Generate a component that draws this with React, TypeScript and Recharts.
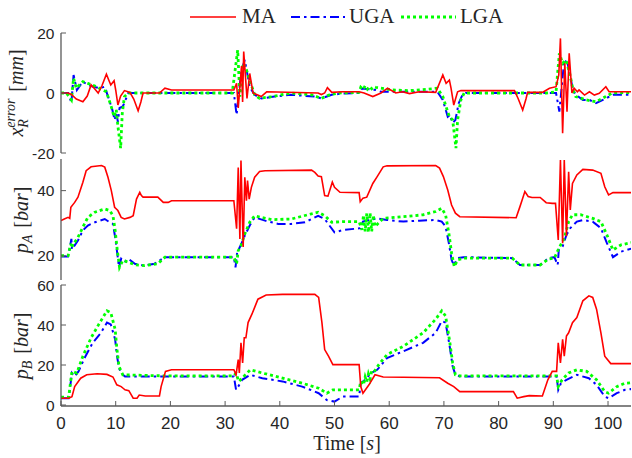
import React from 'react';
import { LineChart, Line, XAxis, YAxis } from 'recharts';

type P = [number, number];

const timeTicks = [0, 10, 20, 30, 40, 50, 60, 70, 80, 90, 100];
const xErrTicks = [-20, 0, 20];
const pATicks = [20, 40];
const pBTicks = [0, 20, 40, 60];
const seriesNames = ['MA', 'UGA', 'LGA'];

// x_R error [mm]
const maXErr: P[] = [[0,0],[1.3,0],[1.9,-0.5],[2.8,-2],[4.0,-2.9],[4.8,-1],[5.5,2.7],[6.1,1.5],[6.8,0],[7.5,2.5],[8.3,6.3],[8.8,4],[9.1,2.7],[9.7,4.1],[10.0,1],[10.4,-4],[10.9,-1],[11.6,0.8],[12.6,0.2],[13.3,-2],[14.1,-5.9],[14.6,-3],[15,0],[18,0],[19,1.6],[20.2,1],[31.6,1],[32.1,3.2],[32.4,-5],[33.0,9],[33.2,-3],[33.4,13.8],[34.0,-1.8],[34.5,6.5],[35.1,0],[36.6,-1.2],[37.6,0.4],[47.0,0],[47.6,-0.5],[48.2,0],[48.7,1.8],[49.5,0.2],[51.5,0.4],[54.5,0.4],[55.4,0],[57,-1.2],[58.5,0],[59.7,1.6],[61.2,0],[62.4,0.4],[63.7,-0.2],[65.5,0.4],[68.5,0.2],[69.8,6],[70.4,3.2],[71,4.3],[71.3,1.6],[71.8,-4],[72.5,0.4],[73.1,0.8],[82.9,0.8],[83.6,-2],[84.4,-5.7],[85.0,-2],[85.3,0.2],[88,0.2],[89.3,1.6],[90.5,2.1],[91.0,6],[91.3,18.2],[91.7,-13.4],[92.1,9.9],[92.5,-6.2],[92.9,13.2],[93.4,0],[93.8,1.6],[94.4,0.4],[94.7,1],[95.7,-0.7],[96.6,0.4],[97.5,-0.7],[98.4,-0.1],[99.6,2.1],[100.2,0.4],[104.5,0.4]];
const ugaXErr: P[] = [[0,0],[1.3,0],[1.9,-3.2],[2.3,6],[2.9,1],[4,3.8],[4.9,2.7],[5.9,2.1],[7.1,1.6],[8,2.1],[8.6,-1.2],[9.4,-5.7],[9.8,-9],[10.1,-6.8],[10.4,-9.6],[10.7,-5],[11.3,-4.5],[12.3,0],[31.6,0],[32.1,-7.3],[32.5,0],[33,7.7],[33.6,11],[34.5,2],[35.4,-0.6],[36.6,-1.8],[39,-1.2],[42,-0.6],[46.4,-1.2],[47.6,-1.8],[49.5,-0.6],[51.3,-0.2],[54.5,0],[55,1.5],[57.5,1],[58.5,0.4],[68.8,0.4],[69.8,-2.3],[70.7,-7.9],[71.1,-7.3],[71.6,-10],[72.1,-9],[72.7,-3.4],[73.4,-0.6],[74,0],[90.5,0],[91.1,-6.2],[92,11],[92.6,10],[93.6,1],[94.1,-0.6],[95.4,-2.3],[96.6,-2.3],[97.8,-3.4],[99.6,-1.8],[100.9,-0.6],[104.5,-0.6]];
const lgaXErr: P[] = [[0,0],[1,0],[1.9,-2.3],[2.3,4.9],[2.8,1.6],[4,3.8],[4.9,3.2],[6.2,2.3],[7.4,1.2],[8.3,0.4],[9.2,-4.6],[9.7,-7.9],[10.1,-5.6],[10.4,-11],[10.9,-18.4],[11.2,-6.8],[11.6,-1.2],[12.3,0],[31.3,0],[32.3,14.3],[32.7,-1.2],[33.3,9.9],[33.9,7.7],[34.5,4.3],[35.4,-0.6],[36.3,-1.8],[38.5,-1.2],[42.1,0],[45.8,-0.6],[47.6,-1.8],[49.1,-0.6],[50.7,0],[54.5,0.2],[54.8,1.9],[55.2,1.2],[55.6,2.4],[56,1.3],[56.4,2.2],[56.8,1.4],[57.2,2.1],[57.5,1.9],[60.6,1],[63.7,0.8],[66.7,1.2],[68.8,1.6],[69.8,-1.2],[70.4,-4.6],[71,-7.9],[71.6,-9],[72.2,-18.4],[72.5,-9],[73.1,-2.3],[73.7,0],[88.7,0],[90.5,0.4],[91.1,13.2],[91.7,9.9],[92.3,11],[93,6.5],[93.6,1],[94.1,-1.2],[96,-2.3],[97.8,-2.9],[99.6,-1.2],[100.8,0],[104.5,0.2]];

// p_A [bar]
const maPA: P[] = [[0,30.8],[0.6,31.3],[1.3,31.8],[1.6,31.5],[1.8,34.9],[2.5,36.4],[3.1,38],[4,42.6],[4.6,46.1],[5.5,47.3],[7.4,47.7],[8,47.2],[8.6,44],[9.2,40],[9.8,34.9],[10.4,33.9],[11,31.8],[11.6,31.3],[12.6,31.8],[13.2,32.3],[13.8,37.4],[14.4,39.5],[14.7,38.5],[15,38],[17.7,38],[18.7,36.4],[19.6,36.4],[20.2,36.9],[31.6,36.9],[32.1,28.3],[32.4,47.1],[32.7,25.2],[32.9,49.2],[33.3,22.7],[33.6,44.1],[33.9,36.9],[34.1,43.1],[34.4,37.4],[34.8,41],[35.4,44.1],[36.3,45.9],[37.3,46.1],[45.8,46.3],[46.4,45.6],[47,44.5],[47.6,44.3],[48.2,38.5],[48.8,38.3],[49.6,42.6],[50,41],[51,39.5],[54.5,39.4],[54.7,36.6],[55.2,37.7],[55.9,38],[57,42.2],[57.8,44.3],[58.9,47.3],[59.6,47.6],[68.5,47.7],[69.2,46.9],[69.9,44.3],[70.7,40.2],[71.4,35.6],[72.1,33.1],[72.9,32],[83.2,31.7],[83.9,35.1],[84.3,37.1],[84.8,39.7],[85.4,38.2],[86.1,37.9],[87.6,37.9],[88.7,36.3],[89.8,36.1],[90.4,36.1],[90.9,24.9],[91.3,49.4],[91.7,23.9],[92,49.4],[92.4,26],[92.8,45.8],[93.1,34.1],[93.5,42.2],[94.3,44.8],[95.4,46.5],[97.2,46.3],[98.7,45.3],[99.4,41.2],[100.1,38.7],[100.9,39.4],[104.4,39.4]];
const ugaPA: P[] = [[0,19.8],[1.3,19.8],[1.9,25.2],[2.0,22],[2.5,23.2],[3.1,24.7],[4,27.8],[4.9,29.3],[6.2,30.3],[8,31.3],[8.9,30.3],[9.5,29.8],[9.9,25.7],[10.3,20.6],[10.6,16.5],[11,19.1],[11.6,18.1],[12.3,19.1],[13.5,17.6],[15.3,17],[17.1,17.6],[19,19.6],[31.6,19.6],[31.9,16.5],[32.2,21],[32.7,22.7],[33.6,26.2],[34.5,29.3],[35.4,31.8],[37.3,30.8],[39.7,29.8],[42.1,29.8],[44.6,30.3],[47,32.3],[48.2,31.3],[50,27.2],[51.5,27.9],[53.7,28.3],[54.7,28.5],[55.2,30.5],[56.3,31],[57.8,31.5],[59.6,31],[62.6,30.5],[65.5,30.8],[68.5,31],[69.6,30.5],[70.3,29],[70.9,23.9],[71.4,18.8],[71.8,17.2],[72.5,19.3],[73.6,19.6],[82.5,19.3],[83.9,17.2],[87.6,17.2],[89.1,19.3],[90.2,19.6],[90.8,17.2],[91,21.8],[91.7,22.9],[92.4,26.4],[93.1,28.5],[94.3,30.5],[95.4,31],[97.2,30.5],[98.7,28.5],[99.8,23.9],[100.9,19.6],[102.4,21.3],[104.4,22.3]];
const lgaPA: P[] = [[0,20.1],[1.3,20.1],[1.8,23.7],[2.0,22.5],[2.2,24],[2.5,24.2],[3.1,25.7],[4,28.8],[4.9,31.8],[6.2,33.4],[8,34.4],[8.9,33.9],[9.5,32.3],[9.9,27.8],[10.3,21.6],[10.7,16.5],[11.3,18.6],[12.3,18.1],[13.5,17.3],[15.3,17],[17.7,17.6],[19,19.6],[31.6,19.6],[32.1,17.6],[32.4,21.6],[32.9,23.1],[33.6,26.7],[34.5,30.3],[35.4,32.3],[36.6,31.8],[38.5,31.1],[42.1,31.3],[45.8,32.9],[47,33.4],[48.2,32.3],[49.5,30.3],[51.5,30.5],[54.5,30.5],[55.0,28],[55.3,32.5],[55.6,27.5],[55.9,33],[56.2,27.2],[56.5,33.2],[56.8,27.5],[57.1,32.5],[57.4,29],[58.9,31.5],[62.6,32],[66.2,32.6],[68.5,33.6],[69.6,34.6],[70.3,32.6],[70.9,27],[71.4,20.8],[71.9,16.7],[72.5,18.8],[73.6,19.3],[82.5,19.3],[83.9,17.2],[87.6,17.2],[89.1,19],[90.2,19.3],[91,22.3],[92,25.4],[92.8,30.5],[93.5,32.6],[95,32.6],[97.2,31.5],[98.7,30.5],[99.8,26.4],[100.9,21.8],[102.4,23.4],[104.4,24.1]];

// p_B [bar]
const maPB: P[] = [[0,3.4],[1.4,3.4],[2,4.2],[2.5,9.2],[3.6,13.4],[4.7,15.1],[6.6,15.6],[8.4,15.3],[9.5,14],[10.2,10.1],[11,9.2],[11.3,8.5],[11.7,7.6],[12.4,7.2],[13.2,3.4],[13.9,3.4],[14.3,5],[15.4,4.5],[18,4.5],[18.3,9.2],[19.1,16.8],[20.2,17.6],[31.6,17.6],[32,15.1],[32.4,22.7],[32.6,16],[32.9,31.1],[33.2,21],[33.5,33.6],[33.8,33.6],[34.2,41.2],[34.9,45.4],[36,52.9],[37.5,55],[40.5,55.3],[46.4,55.3],[47.1,53.8],[47.7,41.2],[48.2,27.7],[48.9,24.4],[49.7,20.2],[54.5,20.2],[54.8,9.2],[55.2,5.9],[56.3,10.1],[57.4,15.1],[58.9,14],[62.6,13.9],[69.2,13.6],[70.7,10.9],[71.8,9.2],[72.9,6.7],[82.7,6.7],[83.4,3.4],[84.6,4.2],[85.6,4.7],[88,4.5],[89,12.6],[89.8,16.8],[90.6,16.8],[90.9,31.1],[91.3,21],[91.7,32.8],[92,24.4],[92.4,34.5],[92.8,36.1],[93.5,41.2],[94.3,43.7],[95.4,52.1],[96.5,54.6],[97.2,53.8],[97.9,47.9],[98.7,36.1],[99.4,24.4],[100.5,20.7],[104.4,20.7]];
const ugaPB: P[] = [[0,3.4],[1.4,3.4],[2,16],[2.5,14.3],[3.2,16.8],[4.3,23.5],[5.8,31.1],[7.3,36.1],[8.4,41.2],[9.1,40.3],[9.9,32.8],[10.2,25.2],[10.6,18.5],[11,16],[11.7,14.3],[31.6,14.3],[32,7.6],[32.4,9.2],[33.1,12.6],[34.6,15.1],[36.8,13.4],[40.5,11.8],[44.1,9.2],[47.1,5.9],[48.6,2.5],[50,1.7],[51.5,4.2],[54.5,4.2],[54.8,10.9],[55.6,12.6],[56.7,16],[57.8,17.6],[59.6,23.5],[62.6,26.9],[66.2,31.1],[68.5,36.1],[69.6,42],[70.3,41.2],[71,30.3],[71.6,19.3],[72.1,15.1],[72.9,14.3],[90.6,14.3],[90.9,7.6],[91.4,10.9],[92.4,12.6],[94.3,15.1],[96.5,13.4],[97.9,10.1],[99.4,4.2],[100.1,3.4],[101.6,5.9],[103.1,7.6],[104.4,8]];
const lgaPB: P[] = [[0,3.9],[1.4,3.9],[2,16.8],[2.9,16],[4,24.4],[5.5,33.6],[6.9,40.3],[8.4,47.1],[9.1,46.2],[9.9,37.8],[10.2,28.6],[10.6,19.3],[11.3,15.1],[18.3,14.6],[31.6,14.6],[32,15.9],[32.5,11.8],[33.1,13.4],[34.6,17.6],[36.8,16],[40.5,13.4],[44.1,10.9],[47.1,8.4],[48.6,5.9],[49.7,7.6],[54.5,7.6],[54.8,11.8],[55.3,10],[55.6,14],[55.9,11.5],[56.2,15.5],[56.5,13],[56.8,17],[57.2,16.5],[58.1,20.2],[59.6,25.2],[62.6,29.4],[66.2,36.1],[68.5,42.9],[69.6,47.1],[70.3,44.5],[71,32.8],[71.6,21],[72.1,15.1],[72.9,14.6],[90.6,14.6],[90.9,9.2],[91.6,12.6],[92.8,16],[94.3,17.6],[96.1,16.8],[97.9,12.6],[99.4,6.7],[100.1,5.9],[101.6,9.2],[103.1,10.9],[104.4,11.2]];

const X_DOMAIN: [number, number] = [0, 104.2];
const AX = '#5a5a5a';
const TICK_FONT = 'Liberation Sans, Arial, Helvetica, sans-serif';
const SERIF = 'Liberation Serif, Times New Roman, serif';

const STYLES = [
  { stroke: '#ff0000', strokeWidth: 1.6, dash: undefined as string | undefined },
  { stroke: '#0000ff', strokeWidth: 2, dash: '9 4 2.5 4' },
  { stroke: '#00ff00', strokeWidth: 2.8, dash: '3 3' },
];

const toObj = (arr: P[]) => arr.map(([t, v]) => ({ t, v }));

type PanelProps = {
  top: number;
  height: number;
  mTop: number;
  mBottom: number;
  xHeight: number;
  yDomain: [number, number];
  yTicks: number[];
  series: P[][];
  showX: boolean;
};

function Panel({ top, height, mTop, mBottom, xHeight, yDomain, yTicks, series, showX }: PanelProps) {
  const axisLine = { stroke: AX, strokeWidth: 1.3 };
  const tickLine = { stroke: AX, strokeWidth: 1 };
  const order = [1, 2, 0];
  return (
    <div style={{ position: 'absolute', left: 0, top }}>
      <LineChart width={632} height={height} margin={{ top: mTop, right: 1, bottom: mBottom, left: 0 }}>
        <XAxis
          xAxisId="b"
          dataKey="t"
          type="number"
          domain={X_DOMAIN}
          ticks={timeTicks}
          allowDataOverflow
          orientation="bottom"
          height={xHeight}
          tickSize={-5}
          tickMargin={16}
          interval={0}
          axisLine={axisLine}
          tickLine={tickLine}
          tick={showX ? { fill: '#262626', fontSize: 17, fontFamily: TICK_FONT } : false}
        />
        <XAxis
          xAxisId="t"
          type="number"
          domain={X_DOMAIN}
          ticks={timeTicks}
          allowDataOverflow
          orientation="top"
          height={0}
          tickSize={-5}
          interval={0}
          axisLine={axisLine}
          tickLine={tickLine}
          tick={false}
        />
        <YAxis
          yAxisId="l"
          type="number"
          domain={yDomain}
          ticks={yTicks}
          allowDataOverflow
          width={61}
          tickSize={-5}
          tickMargin={11.5}
          interval={0}
          axisLine={axisLine}
          tickLine={tickLine}
          tick={{ fill: '#262626', fontSize: 15.5, fontFamily: TICK_FONT }}
        />
        <YAxis
          yAxisId="r"
          orientation="right"
          type="number"
          domain={yDomain}
          ticks={yTicks}
          allowDataOverflow
          width={0}
          tickSize={-5}
          interval={0}
          axisLine={axisLine}
          tickLine={tickLine}
          tick={false}
        />
        {order.map((i) => (
          <Line
            key={seriesNames[i]}
            name={seriesNames[i]}
            xAxisId="b"
            yAxisId="l"
            data={toObj(series[i])}
            dataKey="v"
            type="linear"
            dot={false}
            activeDot={false}
            isAnimationActive={false}
            stroke={STYLES[i].stroke}
            strokeWidth={STYLES[i].strokeWidth}
            strokeDasharray={STYLES[i].dash}
          />
        ))}
      </LineChart>
    </div>
  );
}

function Overlay() {
  const lab = { fontFamily: SERIF, fill: '#262626' };
  return (
    <svg width={632} height={458} style={{ position: 'absolute', left: 0, top: 0, pointerEvents: 'none' }}>
      {/* legend */}
      <line x1={190} y1={17} x2={236} y2={17} stroke="#ff0000" strokeWidth={1.6} />
      <text x={242} y={23} fontSize={21} {...lab}>{seriesNames[0]}</text>
      <line x1={291} y1={17} x2={345} y2={17} stroke="#0000ff" strokeWidth={2} strokeDasharray="9 4 2.5 4" />
      <text x={349} y={23} fontSize={21} {...lab}>{seriesNames[1]}</text>
      <line x1={401} y1={17} x2={456} y2={17} stroke="#00ff00" strokeWidth={2.8} strokeDasharray="3 3" />
      <text x={460} y={23} fontSize={21} {...lab}>{seriesNames[2]}</text>

      {/* y labels */}
      <text transform="translate(23,93) rotate(-90)" textAnchor="middle" fontSize={20} {...lab}>
        <tspan fontStyle="italic">x</tspan>
        <tspan fontStyle="italic" fontSize={14} dy={5}>R</tspan>
        <tspan fontStyle="italic" fontSize={14} dx={-8.5} dy={-13}>error</tspan>
        <tspan dx={7} dy={8}>[</tspan>
        <tspan fontStyle="italic">mm</tspan>
        <tspan>]</tspan>
      </text>
      <text transform="translate(28,220) rotate(-90)" textAnchor="middle" fontSize={20} {...lab}>
        <tspan fontStyle="italic">p</tspan>
        <tspan fontStyle="italic" fontSize={14} dy={4}>A</tspan>
        <tspan dx={7} dy={-4}>[</tspan>
        <tspan fontStyle="italic">bar</tspan>
        <tspan>]</tspan>
      </text>
      <text transform="translate(28,346) rotate(-90)" textAnchor="middle" fontSize={20} {...lab}>
        <tspan fontStyle="italic">p</tspan>
        <tspan fontStyle="italic" fontSize={14} dy={4}>B</tspan>
        <tspan dx={7} dy={-4}>[</tspan>
        <tspan fontStyle="italic">bar</tspan>
        <tspan>]</tspan>
      </text>

      {/* x label */}
      <text x={347} y={450} textAnchor="middle" fontSize={20} {...lab}>
        <tspan>Time </tspan>
        <tspan>[</tspan>
        <tspan fontStyle="italic">s</tspan>
        <tspan>]</tspan>
      </text>
    </svg>
  );
}

export default function App() {
  return (
    <div style={{ position: 'absolute', left: 0, top: 0, width: 632, height: 458, background: '#fff', overflow: 'hidden' }}>
      <Panel top={0} height={172} mTop={33} mBottom={19} xHeight={0} yDomain={[-20, 20]} yTicks={xErrTicks} series={[maXErr, ugaXErr, lgaXErr]} showX={false} />
      <Panel top={145} height={150} mTop={14} mBottom={15} xHeight={0} yDomain={[12.6, 49.7]} yTicks={pATicks} series={[maPA, ugaPA, lgaPA]} showX={false} />
      <Panel top={268} height={190} mTop={17} mBottom={12} xHeight={40} yDomain={[-0.5, 60]} yTicks={pBTicks} series={[maPB, ugaPB, lgaPB]} showX={true} />
      <Overlay />
    </div>
  );
}
